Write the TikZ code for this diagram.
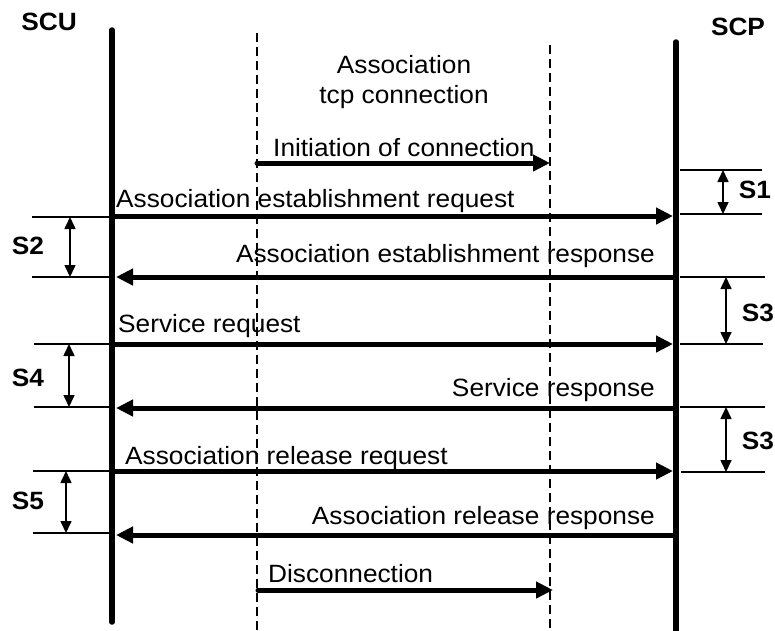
\documentclass[tikz,border=0pt]{standalone}
\usepackage{fontspec}
\setmainfont[FakeStretch=1.05]{Liberation Sans}
\usetikzlibrary{arrows.meta,positioning}

\begin{document}
\begin{tikzpicture}[x=1pt,y=-1pt,
    life/.style={line width=5.5pt,line cap=round},
    conn/.style={line width=1.5pt,dash pattern=on 9pt off 5pt},
    msg/.style={line width=5pt,line cap=round,-{Triangle[length=17pt,width=16pt]}},
    tick/.style={line width=1.5pt},
    span/.style={line width=1.6pt,{Triangle[length=12pt,width=11pt]}-{Triangle[length=12pt,width=11pt]}},
    lbl/.style={font=\fontsize{25}{30}\selectfont,inner sep=0pt},
    tag/.style={font=\fontsize{25}{30}\bfseries\selectfont,inner sep=0pt}]
    \useasboundingbox (0,0) rectangle (775,630);
    % entities
    \node [tag] (scu) at (49,22) {SCU};
    \node [tag] (scp) at (738,27) {SCP};
    \coordinate (scutop) at (112,30);
    \coordinate (scubot) at (112,622);
    \coordinate (scptop) at (676,42);
    \coordinate (scpbot) at (676,634);
    \draw [life] (scutop) -- (scubot);
    \draw [life] (scptop) -- (scpbot);
    % tcp connection
    \node [lbl] (assoc) at (404,65) {Association};
    \node [lbl, below=11pt of assoc] (tcp) {tcp connection};
    \coordinate (tcpa) at (257,33);
    \coordinate (tcpb) at (257,632);
    \coordinate (tcpc) at (550,45);
    \coordinate (tcpd) at (550,632);
    \draw [conn] (tcpa) -- (tcpb);
    \draw [conn] (tcpc) -- (tcpd);
    % messages
    \coordinate (i0) at (257,163);  \coordinate (i1) at (550,163);
    \coordinate (m1u) at (114,216); \coordinate (m1p) at (673,216);
    \coordinate (m2p) at (674,277); \coordinate (m2u) at (116,277);
    \coordinate (m3u) at (114,344); \coordinate (m3p) at (673,344);
    \coordinate (m4p) at (674,408); \coordinate (m4u) at (116,408);
    \coordinate (m5u) at (114,471); \coordinate (m5p) at (673,471);
    \coordinate (m6p) at (674,535); \coordinate (m6u) at (116,535);
    \coordinate (d0) at (258,590);  \coordinate (d1) at (553,590);
    \draw [msg] (i0) -- (i1);
    \draw [msg] (m1u) -- (m1p);
    \draw [msg] (m2p) -- (m2u);
    \draw [msg] (m3u) -- (m3p);
    \draw [msg] (m4p) -- (m4u);
    \draw [msg] (m5u) -- (m5p);
    \draw [msg] (m6p) -- (m6u);
    \draw [msg] (d0) -- (d1);
    \node [lbl, anchor=base west] (li) at (273,156) {Initiation of connection};
    \node [lbl, anchor=base west] (l1) at (116,207) {Association establishment request};
    \node [lbl, anchor=base east] (l2) at (655,262) {Association establishment response};
    \node [lbl, anchor=base west] (l3) at (118,332) {Service request};
    \node [lbl, anchor=base east] (l4) at (655,396) {Service response};
    \node [lbl, anchor=base west] (l5) at (125,464) {Association release request};
    \node [lbl, anchor=base east] (l6) at (655,524) {Association release response};
    \node [lbl, anchor=base west] (ld) at (268,582) {Disconnection};
    % timers on SCP side
    \coordinate (a1) at (680,170); \coordinate (b1) at (762,170);
    \coordinate (a2) at (680,214); \coordinate (b2) at (762,214);
    \coordinate (a3) at (680,277); \coordinate (b3) at (765,277);
    \coordinate (a4) at (680,344); \coordinate (b4) at (763,344);
    \coordinate (a5) at (680,407); \coordinate (b5) at (765,407);
    \coordinate (a6) at (681,472); \coordinate (b6) at (765,472);
    \foreach \k in {1,...,6} \draw [tick] (a\k) -- (b\k);
    \coordinate (s1a) at (723,170); \coordinate (s1b) at (723,214);
    \coordinate (s3a) at (726,277); \coordinate (s3b) at (726,344);
    \coordinate (s3c) at (726,407); \coordinate (s3d) at (726,472);
    \draw [span] (s1a) -- (s1b);
    \draw [span] (s3a) -- (s3b);
    \draw [span] (s3c) -- (s3d);
    \node [tag] (t1) at (755,190) {S1};
    \node [tag] (t3) at (758,313) {S3};
    \node [tag] (t3b) at (758,441) {S3};
    % timers on SCU side
    \coordinate (c1) at (32,217);  \coordinate (e1) at (112,217);
    \coordinate (c2) at (32,277);  \coordinate (e2) at (112,277);
    \coordinate (c3) at (34,344);  \coordinate (e3) at (112,344);
    \coordinate (c4) at (34,407);  \coordinate (e4) at (112,407);
    \coordinate (c5) at (33,471);  \coordinate (e5) at (112,471);
    \coordinate (c6) at (33,533);  \coordinate (e6) at (112,533);
    \foreach \k in {1,...,6} \draw [tick] (c\k) -- (e\k);
    \coordinate (s2a) at (70,217); \coordinate (s2b) at (70,277);
    \coordinate (s4a) at (69,344); \coordinate (s4b) at (69,407);
    \coordinate (s5a) at (66,471); \coordinate (s5b) at (66,533);
    \draw [span] (s2a) -- (s2b);
    \draw [span] (s4a) -- (s4b);
    \draw [span] (s5a) -- (s5b);
    \node [tag] (t2) at (28,246) {S2};
    \node [tag] (t4) at (28,378) {S4};
    \node [tag] (t5) at (28,501) {S5};
\end{tikzpicture}
\end{document}
